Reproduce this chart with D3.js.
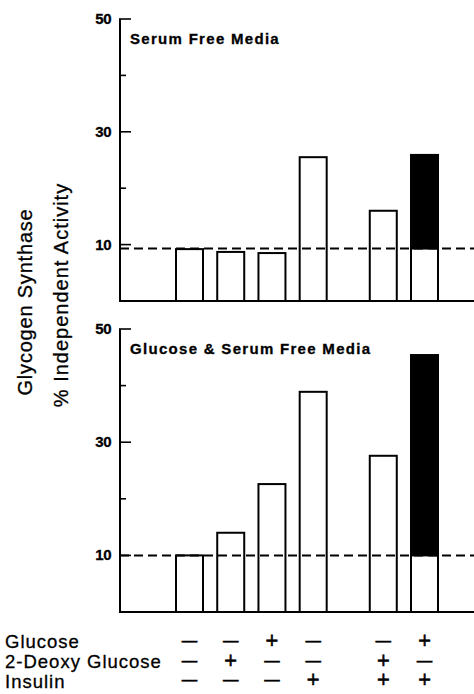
<!DOCTYPE html>
<html><head><meta charset="utf-8">
<script src="https://cdn.jsdelivr.net/npm/d3@7"></script>
<style>body{margin:0;background:#fff} svg{display:block}</style>
</head><body>
<script>
// ---- data ----
const conditions = ["c1","c2","c3","c4","c5","c6"];
const glucoseRow = ["—","—","+","—","—","+"];
const deoxyRow   = ["—","+","—","—","+","—"];
const insulinRow = ["—","—","—","+","+","+"];
const rowLabels  = ["Glucose","2-Deoxy Glucose","Insulin"];
const serumFree        = [9.2, 8.7, 8.5, 25.5, 16.0, 25.9];
const glucoseSerumFree = [10.0, 14.0, 22.6, 38.9, 27.6, 45.4];
const baselineValues   = [9.3, 10.0];
const panelTitles = ["Serum Free Media","Glucose & Serum Free Media"];
const majorTicks = [10, 30, 50];
const minorTicks = [20, 40];
const highlighted = "c6";

const W = 474, H = 694;
const svg = d3.select("body").append("svg").attr("width", W).attr("height", H);
const font = "'Liberation Sans', Arial, Helvetica, sans-serif";

// slot positions: a gap between condition 4 and 5
const slot = (c, i) => i + (i >= 4 ? 0.7 : 0);
const x = d3.scaleLinear().domain([0, 5.7]).range([189.5, 424.5]);
const barW = 27;
const axisX = 120;

const panels = [
  {title: panelTitles[0], values: serumFree, base: baselineValues[0], range: [301, 19]},
  {title: panelTitles[1], values: glucoseSerumFree, base: baselineValues[1], range: [612, 329]}
];

panels.forEach(p => {
  const y = d3.scaleLinear().domain([0, 50]).range(p.range);
  const g = svg.append("g");
  const data = conditions.map((c, i) => ({c, i, v: p.values[i]}));

  data.forEach(d => {
    const cx = x(slot(d.c, d.i));
    if (d.c === highlighted) {
      g.append("rect").attr("x", cx - barW/2).attr("y", y(d.v)).attr("width", barW)
        .attr("height", y(p.base) - y(d.v)).attr("fill", "#000").attr("stroke", "#000").attr("stroke-width", 2);
      g.append("rect").attr("x", cx - barW/2).attr("y", y(p.base)).attr("width", barW)
        .attr("height", y(0) - y(p.base)).attr("fill", "#fff").attr("stroke", "#000").attr("stroke-width", 2);
    } else {
      g.append("rect").attr("x", cx - barW/2).attr("y", y(d.v)).attr("width", barW)
        .attr("height", y(0) - y(d.v)).attr("fill", "#fff").attr("stroke", "#000").attr("stroke-width", 2);
    }
  });

  g.append("line").attr("x1", axisX).attr("x2", W).attr("y1", y(p.base)).attr("y2", y(p.base))
    .attr("stroke", "#000").attr("stroke-width", 2).attr("stroke-dasharray", "9,5");

  g.append("line").attr("x1", axisX).attr("x2", W).attr("y1", y(0)).attr("y2", y(0))
    .attr("stroke", "#000").attr("stroke-width", 2);
  g.append("line").attr("x1", axisX).attr("x2", axisX).attr("y1", y(0)+1).attr("y2", y(50))
    .attr("stroke", "#000").attr("stroke-width", 2);
  majorTicks.forEach(t => {
    g.append("line").attr("x1", axisX - 1).attr("x2", axisX + 11).attr("y1", y(t)).attr("y2", y(t))
      .attr("stroke", "#000").attr("stroke-width", 1.6);
    g.append("text").attr("x", 111).attr("y", y(t) + 5).attr("text-anchor", "end")
      .attr("font-family", font).attr("font-weight", "bold").attr("font-size", 15)
      .attr("letter-spacing", -0.5).attr("stroke", "#000").attr("stroke-width", 0.3).text(t);
  });
  minorTicks.forEach(t => {
    g.append("line").attr("x1", axisX).attr("x2", axisX + 6).attr("y1", y(t)).attr("y2", y(t))
      .attr("stroke", "#000").attr("stroke-width", 1.6);
  });

  g.append("text").attr("x", 130).attr("y", y(50) + 25)
    .attr("font-family", font).attr("font-weight", "bold").attr("font-size", 15)
    .attr("letter-spacing", 1.3).attr("stroke", "#000").attr("stroke-width", 0.3).text(p.title);
});

// y-axis title
svg.append("text").attr("transform", "translate(32,302) rotate(-90)")
  .attr("font-family", font).attr("font-size", 20).attr("letter-spacing", 0.8)
  .attr("stroke", "#000").attr("stroke-width", 0.3)
  .attr("text-anchor", "middle").text("Glycogen Synthase");
svg.append("text").attr("transform", "translate(68,295) rotate(-90)")
  .attr("font-family", font).attr("font-size", 20).attr("letter-spacing", 1)
  .attr("stroke", "#000").attr("stroke-width", 0.3)
  .attr("text-anchor", "middle").text("% Independent Activity");

// condition table
const rows = [glucoseRow, deoxyRow, insulinRow];
const rowY = [648, 668, 688];
const signY = [646, 666, 685];
rows.forEach((r, ri) => {
  svg.append("text").attr("x", 5).attr("y", rowY[ri])
    .attr("font-family", font).attr("font-size", 18.5).attr("letter-spacing", 1)
    .attr("stroke", "#000").attr("stroke-width", 0.3)
    .text(rowLabels[ri]);
  r.forEach((s, i) => {
    const cx = x(slot(conditions[i], i));
    svg.append("text").attr("x", cx).attr("y", signY[ri])
      .attr("text-anchor", "middle").attr("font-family", "'DejaVu Sans', sans-serif")
      .attr("font-size", 17).attr("stroke", "#000").attr("stroke-width", 0.6).text(s);
  });
});
</script>
</body></html>
